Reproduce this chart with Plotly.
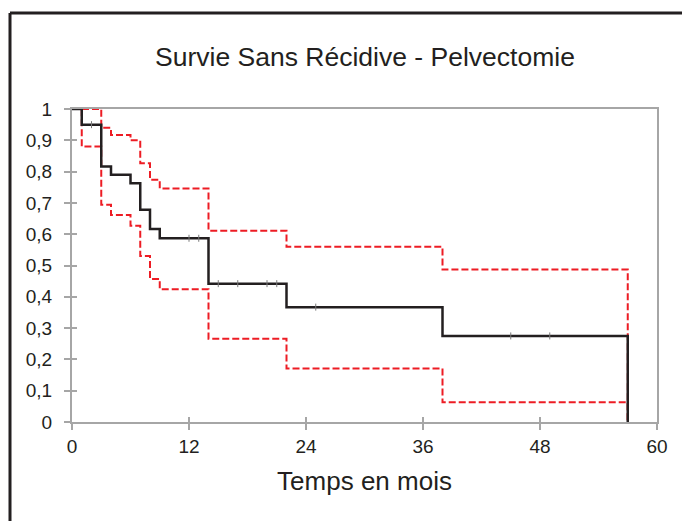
import plotly.graph_objects as go

# Kaplan-Meier steps (months, survival)
months = [0, 1, 3, 4, 6, 7, 8, 9, 14, 22, 38, 57]
survie = [1, 0.95, 0.816, 0.79, 0.763, 0.678, 0.617, 0.587, 0.442, 0.367, 0.275, 0]
ic_haut = [1, 1, 0.94, 0.917, 0.90, 0.827, 0.774, 0.746, 0.611, 0.56, 0.487, 0]
ic_bas = [1, 0.88, 0.694, 0.661, 0.627, 0.53, 0.457, 0.424, 0.266, 0.171, 0.063, 0]

# censored observations (small marks on the curve)
censure_mois = [2, 12, 13, 15, 17, 20, 21, 25, 45, 49]
censure_surv = [0.95, 0.587, 0.587, 0.442, 0.442, 0.442, 0.442, 0.367, 0.275, 0.275]

x_ticks = [0, 12, 24, 36, 48, 60]
y_ticks = [0, 0.1, 0.2, 0.3, 0.4, 0.5, 0.6, 0.7, 0.8, 0.9, 1]
y_labels = ['0', '0,1', '0,2', '0,3', '0,4', '0,5', '0,6', '0,7', '0,8', '0,9', '1']

RED = '#ed1c24'
BLACK = '#231f20'
GREY = '#a6a6a6'
FONT = 'Liberation Sans, Arial, sans-serif'

fig = go.Figure()

for ci in (ic_haut, ic_bas):
    fig.add_trace(go.Scatter(
        x=months, y=ci, mode='lines', line_shape='hv',
        line=dict(color=RED, width=2, dash='7px,3px'),
        hoverinfo='skip', showlegend=False
    ))

fig.add_trace(go.Scatter(
    x=months, y=survie, mode='lines', line_shape='hv',
    line=dict(color=BLACK, width=2.5), showlegend=False
))

fig.add_trace(go.Scatter(
    x=censure_mois, y=censure_surv, mode='markers',
    marker=dict(symbol='line-ns', size=5, line=dict(color='#7a7a7a', width=1)),
    showlegend=False
))

# invisible trace for the inner half of the crossing ticks
fig.add_trace(go.Scatter(x=[0], y=[0], xaxis='x2', yaxis='y2', mode='markers',
                         marker=dict(opacity=0), hoverinfo='skip', showlegend=False))

axis_common = dict(showgrid=False, zeroline=False, tickcolor=GREY, tickwidth=2)

# the page body adds 8px around the figure: shrink it so no scrollbar shows
W, H = 674, 513
bx = -62 / 585
by = (422 - 13) / 313
right_edge = (W - 64) / 585 + 0.02
bottom_edge = -99 / 313 - 0.02

fig.update_layout(
    width=W, height=H,
    margin=dict(l=64, r=25, t=101, b=99),
    paper_bgcolor='white', plot_bgcolor='white',
    font=dict(family=FONT, color='#231f20'),
    title=dict(text='Survie Sans Récidive - Pelvectomie', x=(365 - 8) / W, xanchor='center',
               y=1 - 49 / H, yanchor='middle', font=dict(size=26.5)),
    xaxis=dict(range=[0, 60], tickvals=x_ticks, ticks='outside', ticklen=6,
               showline=True, linecolor=GREY, linewidth=2, mirror=True,
               tickfont=dict(size=19), ticklabelstandoff=0,
               title=dict(text='Temps en mois', font=dict(size=26), standoff=16),
               **axis_common),
    yaxis=dict(range=[0, 1], tickvals=y_ticks, ticktext=y_labels, ticks='outside', ticklen=6,
               showline=True, linecolor=GREY, linewidth=2, mirror=True,
               tickfont=dict(size=19), ticklabelstandoff=8,
               **axis_common),
    xaxis2=dict(range=[0, 60], tickvals=x_ticks, ticks='inside', ticklen=5,
                showticklabels=False, showline=False, overlaying='x', anchor='y2',
                **axis_common),
    yaxis2=dict(range=[0, 1], tickvals=y_ticks, ticks='inside', ticklen=5,
                showticklabels=False, showline=False, overlaying='y', anchor='x2',
                **axis_common),
    shapes=[
        dict(type='line', xref='paper', yref='paper', x0=bx, x1=bx, y0=bottom_edge, y1=by,
             line=dict(color='#231f20', width=3), layer='below'),
        dict(type='line', xref='paper', yref='paper', x0=bx, x1=right_edge, y0=by, y1=by,
             line=dict(color='#231f20', width=3), layer='below'),
    ]
)

fig.write_html('out.html')
